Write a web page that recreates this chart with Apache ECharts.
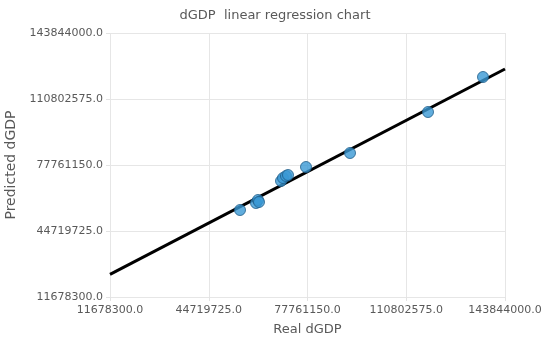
<!DOCTYPE html>
<html>
<head>
<meta charset="utf-8">
<script src="https://cdn.jsdelivr.net/npm/echarts@6/dist/echarts.min.js"></script>
<style>
  html, body { margin: 0; padding: 0; background: #fff; }
  #chart { width: 550px; height: 348px; }
</style>
</head>
<body>
<div id="chart"></div>
<script>
// axis ticks (same for both axes)
const axisMin = 11678300;
const axisMax = 143844000;
const axisStep = 33041425;

// observed points
const realGdp = [55175910, 60529462, 61198656, 61533253, 68894387, 69563581, 70566372, 71235566, 77259312, 91981580, 118080146, 136482981];
const predictedGdp = [55232936, 58737332, 60239216, 59237960, 69751148, 71253032, 72254288, 72754916, 76759940, 83768732, 104294480, 121816460];

// fitted line end points
const fitX = [11678300, 143844000];
const fitY = [23042556, 125821484];

const textColor = '#595959';
const font = 'DejaVu Sans';

const chart = echarts.init(document.getElementById('chart'));

const axisCommon = {
    type: 'value',
    min: axisMin,
    max: axisMax,
    interval: axisStep,
    nameLocation: 'middle',
    nameTextStyle: { color: textColor, fontSize: 13, fontFamily: font },
    axisLine: { show: false },
    axisTick: { show: true, length: 4, lineStyle: { color: '#e3e3e3' } },
    axisLabel: {
        color: textColor, fontSize: 11, fontFamily: font,
        formatter: v => v.toFixed(1)
    },
    splitLine: { show: true, lineStyle: { color: '#e6e6e6' } }
};

chart.setOption({
    animation: false,
    title: {
        text: 'dGDP  linear regression chart',
        left: 'center',
        top: 4,
        textStyle: { color: textColor, fontSize: 13, fontWeight: 'normal', fontFamily: font }
    },
    grid: { left: 110, right: 45, top: 33, bottom: 51, outerBoundsMode: 'none', containLabel: false },
    xAxis: Object.assign({}, axisCommon, {
        name: 'Real dGDP',
        nameGap: 26,
        axisLabel: Object.assign({}, axisCommon.axisLabel, { margin: 8 })
    }),
    yAxis: Object.assign({}, axisCommon, {
        name: 'Predicted dGDP',
        nameGap: 85,
        nameTextStyle: { color: textColor, fontSize: 14, fontFamily: font },
        axisLabel: Object.assign({}, axisCommon.axisLabel, { margin: 7 })
    }),
    series: [
        {
            type: 'line',
            data: fitX.map((x, i) => [x, fitY[i]]),
            symbol: 'none',
            lineStyle: { color: '#000', width: 3 },
            z: 2
        },
        {
            type: 'scatter',
            data: realGdp.map((x, i) => [x, predictedGdp[i]]),
            symbolSize: 11,
            itemStyle: { color: '#3a98d4', borderColor: '#1f5d88', borderWidth: 1 },
            z: 3
        }
    ]
});
</script>
</body>
</html>
